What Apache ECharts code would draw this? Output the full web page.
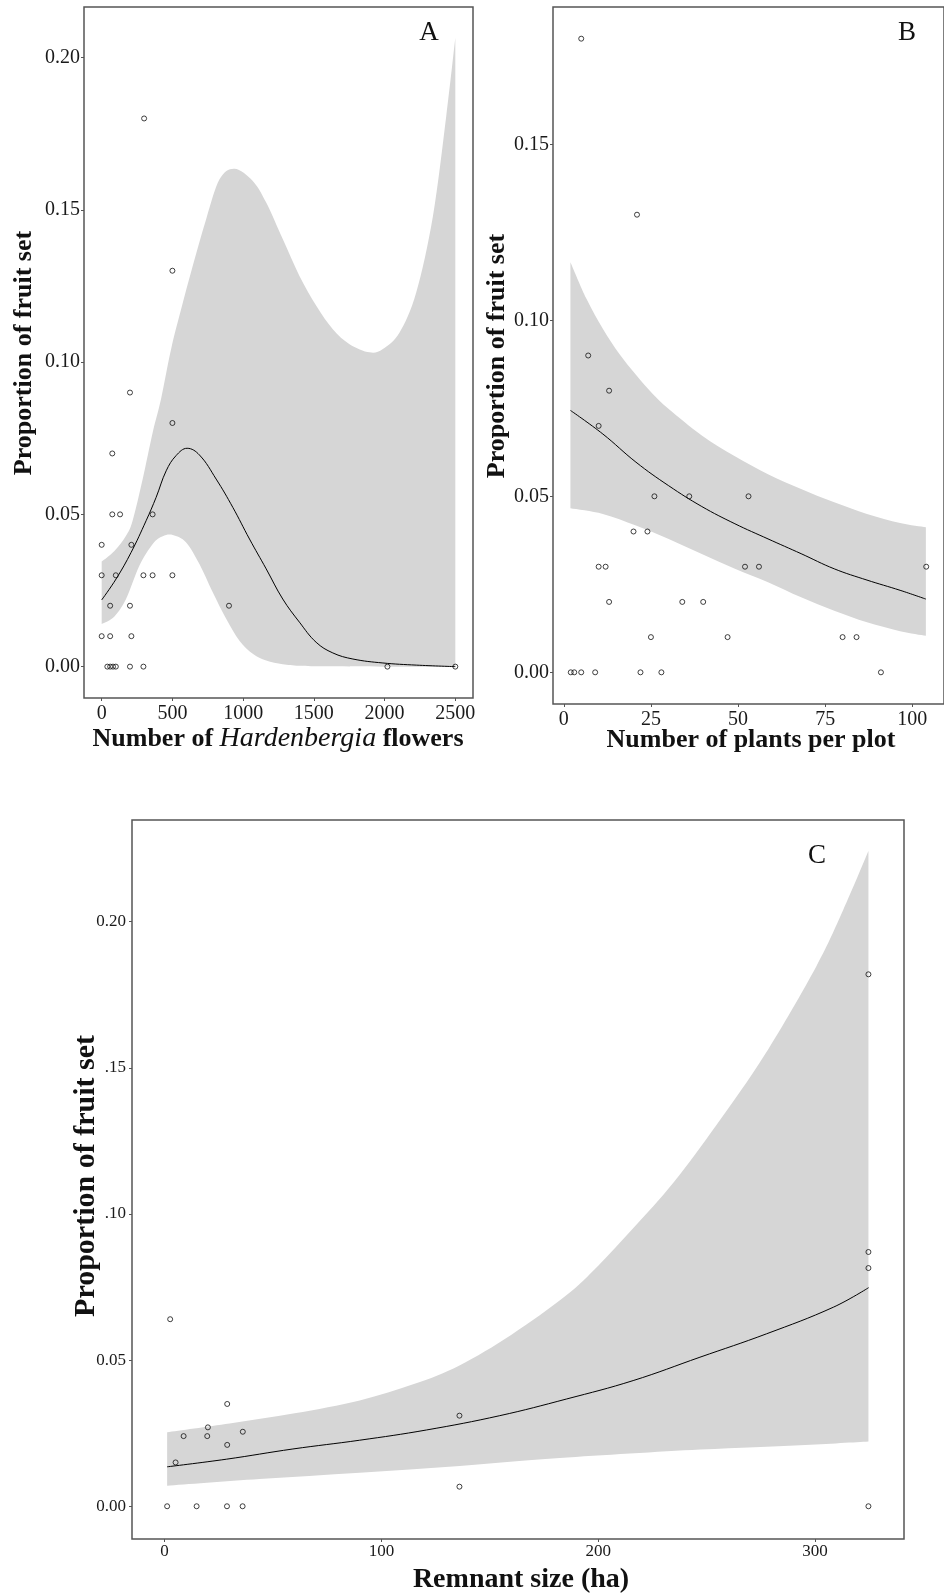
<!DOCTYPE html>
<html>
<head>
<meta charset="utf-8">
<title>Proportion of fruit set</title>
<script src="https://cdn.jsdelivr.net/npm/echarts@6/dist/echarts.min.js"></script>
<style>
  html, body { margin: 0; padding: 0; background: #ffffff; }
  #chart { width: 944px; height: 1596px; }
</style>
</head>
<body>
<div id="chart"></div>
<script>
// ---------- Panel A: number of Hardenbergia flowers ----------
const flowersPoints = [
  [300, 0.18], [500, 0.13], [200, 0.09], [500, 0.08], [75, 0.07],
  [75, 0.05], [130, 0.05], [360, 0.05], [0, 0.04], [210, 0.04],
  [0, 0.03], [100, 0.03], [295, 0.03], [360, 0.03], [500, 0.03],
  [60, 0.02], [200, 0.02], [900, 0.02], [0, 0.01], [60, 0.01], [210, 0.01],
  [40, 0], [60, 0], [80, 0], [100, 0], [200, 0], [295, 0], [2020, 0], [2500, 0]
];
const flowersFit = [
  [0, 0.0219], [102, 0.0288], [208, 0.0375], [314, 0.0479], [385, 0.0556],
  [456, 0.0643], [526, 0.0693], [604, 0.0717], [691, 0.0695], [809, 0.0616],
  [927, 0.0523], [1045, 0.0419], [1163, 0.0321], [1280, 0.0222], [1398, 0.0146],
  [1516, 0.0080], [1634, 0.0045], [1776, 0.0025], [1988, 0.0012], [2224, 0.0005], [2500, 0]
];
const flowersUpper = [
  [0, 0.0345], [90, 0.038], [172, 0.043], [219, 0.048], [290, 0.0616], [361, 0.077],
  [420, 0.088], [491, 0.1043], [562, 0.1174], [644, 0.1316], [739, 0.147], [833, 0.160],
  [939, 0.1635], [1068, 0.1595], [1163, 0.1524], [1280, 0.1404], [1398, 0.1283],
  [1517, 0.1185], [1634, 0.1108], [1752, 0.1059], [1894, 0.1032], [1988, 0.1043],
  [2106, 0.1097], [2224, 0.1229], [2342, 0.148], [2436, 0.1808], [2500, 0.2065]
];
const flowersLower = [
  [0, 0.014], [90, 0.0165], [172, 0.0222], [267, 0.0332], [361, 0.0403], [432, 0.0428],
  [503, 0.0432], [597, 0.0408], [691, 0.0337], [785, 0.0244], [880, 0.0157],
  [974, 0.0085], [1068, 0.0042], [1163, 0.002], [1280, 0.0008], [1398, 0.0003],
  [1600, 0.0001], [2000, 0], [2500, 0]
];
const flowersXTicks = [0, 500, 1000, 1500, 2000, 2500];
const flowersXLabels = ['0', '500', '1000', '1500', '2000', '2500'];
const flowersYTicks = [0, 0.05, 0.10, 0.15, 0.20];
const flowersYLabels = ['0.00', '0.05', '0.10', '0.15', '0.20'];

// ---------- Panel B: number of plants per plot ----------
const plantsPoints = [
  [5, 0.18], [21, 0.13], [7, 0.09], [13, 0.08], [10, 0.07],
  [26, 0.05], [36, 0.05], [53, 0.05], [20, 0.04], [24, 0.04],
  [10, 0.03], [12, 0.03], [52, 0.03], [56, 0.03], [104, 0.03],
  [13, 0.02], [34, 0.02], [40, 0.02], [25, 0.01], [47, 0.01], [80, 0.01], [84, 0.01],
  [2, 0], [3, 0], [5, 0], [9, 0], [22, 0], [28, 0], [91, 0]
];
const plantsFit = [
  [1.9, 0.0744], [11.2, 0.0677], [20.7, 0.0597], [30.1, 0.053], [39.6, 0.0471],
  [49.1, 0.0422], [58.6, 0.0379], [68.1, 0.0337], [77.6, 0.0294], [87, 0.0262],
  [96.5, 0.0233], [103.9, 0.0208]
];
const plantsUpper = [
  [1.9, 0.1165], [6.5, 0.1061], [11.2, 0.0976], [15.9, 0.0905], [20.7, 0.0845],
  [25.4, 0.0792], [30.1, 0.0748], [39.6, 0.0673], [49.1, 0.0614], [58.6, 0.0563],
  [68.1, 0.0521], [77.6, 0.0483], [87, 0.045], [96.5, 0.0424], [103.9, 0.0412]
];
const plantsLower = [
  [1.9, 0.0466], [11.2, 0.045], [20.7, 0.0417], [30.1, 0.0379], [39.6, 0.0336],
  [49.1, 0.0294], [58.6, 0.0256], [68.1, 0.0213], [77.6, 0.0175], [87, 0.0142],
  [96.5, 0.0117], [103.9, 0.0104]
];
const plantsXTicks = [0, 25, 50, 75, 100];
const plantsXLabels = ['0', '25', '50', '75', '100'];
const plantsYTicks = [0, 0.05, 0.10, 0.15];
const plantsYLabels = ['0.00', '0.05', '0.10', '0.15'];

// ---------- Panel C: remnant size ----------
const remnantPoints = [
  [1.2, 0], [2.6, 0.064], [5.1, 0.015], [8.8, 0.024], [14.8, 0], [19.7, 0.024],
  [20, 0.027], [28.8, 0], [28.9, 0.021], [28.9, 0.035], [36, 0], [36.1, 0.0255],
  [136, 0.031], [136, 0.0067], [324.6, 0.182], [324.6, 0.087], [324.6, 0.0815], [324.6, 0]
];
const remnantFit = [
  [1.2, 0.0135], [28.5, 0.0161], [59.2, 0.0196], [90, 0.0226], [120.8, 0.0261],
  [154.6, 0.031], [185.4, 0.0367], [216.1, 0.043], [246.9, 0.051], [277.6, 0.059],
  [308.4, 0.0681], [324.7, 0.0748]
];
const remnantUpper = [
  [1.2, 0.0253], [30, 0.0283], [60, 0.0318], [90, 0.0362], [115, 0.0418],
  [136, 0.0482], [160, 0.0587], [185, 0.072], [200, 0.0823], [216, 0.095],
  [235, 0.111], [254.6, 0.1305], [277, 0.1547], [300.6, 0.1848], [312.9, 0.2039],
  [324.6, 0.2242]
];
const remnantLower = [
  [1.2, 0.007], [43.8, 0.0093], [90, 0.0115], [136.1, 0.0138], [182.3, 0.0165],
  [246.9, 0.0194], [293, 0.0209], [324.6, 0.0222]
];
const remnantXTicks = [0, 100, 200, 300];
const remnantXLabels = ['0', '100', '200', '300'];
const remnantYTicks = [0, 0.05, 0.10, 0.15, 0.20];
const remnantYLabels = ['0.00', '0.05', '.10', '.15', '0.20'];

// ---------- helpers ----------
const SERIF = '"Liberation Serif", "Times New Roman", serif';
const FRAME = '#555555';
const BAND = '#d6d6d6';

function labelFor(v, ticks, labels) {
  for (let i = 0; i < ticks.length; i++) {
    if (Math.abs(ticks[i] - v) < 1e-9) return labels[i];
  }
  return '';
}

function valueAxis(gridIndex, min, max, ticks, labels, fontSize, margin) {
  return {
    type: 'value',
    gridIndex: gridIndex,
    min: min,
    max: max,
    axisLine: { show: false, onZero: false },
    splitLine: { show: false },
    axisTick: {
      show: true, inside: false, length: 3, customValues: ticks,
      lineStyle: { color: FRAME, width: 1 }
    },
    axisLabel: {
      customValues: ticks,
      margin: margin,
      fontFamily: SERIF,
      fontSize: fontSize,
      color: '#1a1a1a',
      formatter: function (v) { return labelFor(v, ticks, labels); }
    }
  };
}

// Catmull-Rom through pixel points, written as cubic Bezier path commands
function curvePath(pts, start) {
  let d = start + pts[0][0] + ' ' + pts[0][1];
  for (let i = 0; i < pts.length - 1; i++) {
    const p0 = pts[i - 1] || pts[i], p1 = pts[i], p2 = pts[i + 1], p3 = pts[i + 2] || pts[i + 1];
    const c1x = p1[0] + (p2[0] - p0[0]) / 6, c1y = p1[1] + (p2[1] - p0[1]) / 6;
    const c2x = p2[0] - (p3[0] - p1[0]) / 6, c2y = p2[1] - (p3[1] - p1[1]) / 6;
    d += ' C' + c1x + ' ' + c1y + ' ' + c2x + ' ' + c2y + ' ' + p2[0] + ' ' + p2[1];
  }
  return d;
}

function bandSeries(idx, upper, lower) {
  return {
    type: 'custom',
    xAxisIndex: idx,
    yAxisIndex: idx,
    silent: true,
    z: 1,
    data: [upper[0]],
    renderItem: function (params, api) {
      const up = upper.map(function (p) { return api.coord(p); });
      const lo = lower.slice().reverse().map(function (p) { return api.coord(p); });
      const d = curvePath(up, 'M') + ' ' + curvePath(lo, 'L') + ' Z';
      return { type: 'path', shape: { pathData: d }, style: { fill: BAND, stroke: null } };
    }
  };
}

function fitSeries(idx, pts) {
  return {
    type: 'line', xAxisIndex: idx, yAxisIndex: idx, data: pts,
    smooth: 0.4, symbol: 'none', showSymbol: false, silent: true, z: 2,
    lineStyle: { color: '#000000', width: 1 }
  };
}

function pointSeries(idx, pts) {
  return {
    type: 'scatter', xAxisIndex: idx, yAxisIndex: idx, data: pts,
    symbol: 'circle', symbolSize: 5, silent: true, z: 3,
    itemStyle: { color: 'rgba(0,0,0,0)', borderColor: '#111111', borderWidth: 1 }
  };
}

function frame(left, top, width, height) {
  return {
    left: left, top: top, width: width, height: height,
    show: true, borderColor: FRAME, borderWidth: 1.5, backgroundColor: 'transparent'
  };
}

function titleText(x, y, text, size, rotate) {
  return {
    type: 'text', x: x, y: y, rotation: rotate ? Math.PI / 2 : 0, silent: true,
    style: {
      text: text, fill: '#111111',
      font: 'bold ' + size + 'px ' + SERIF,
      align: 'center', verticalAlign: 'middle',
      textAlign: 'center', textVerticalAlign: 'middle'
    }
  };
}

function panelLetter(x, y, text) {
  return {
    type: 'text', x: x, y: y, silent: true,
    style: {
      text: text, fill: '#111111', font: '27px ' + SERIF,
      align: 'center', verticalAlign: 'middle',
      textAlign: 'center', textVerticalAlign: 'middle'
    }
  };
}

const chart = echarts.init(document.getElementById('chart'), null, { renderer: 'canvas' });

chart.setOption({
  animation: false,
  backgroundColor: '#ffffff',
  grid: [
    frame(84, 7, 389, 691),
    frame(553, 7, 395, 697),
    frame(132, 820, 772, 719)
  ],
  xAxis: [
    valueAxis(0, -125, 2625, flowersXTicks, flowersXLabels, 20, 6),
    valueAxis(1, -3.1, 109.1, plantsXTicks, plantsXLabels, 20, 6),
    valueAxis(2, -15, 341, remnantXTicks, remnantXLabels, 17, 4)
  ],
  yAxis: [
    valueAxis(0, -0.0103, 0.2166, flowersYTicks, flowersYLabels, 20, 4),
    valueAxis(1, -0.009, 0.189, plantsYTicks, plantsYLabels, 20, 4),
    valueAxis(2, -0.0112, 0.2348, remnantYTicks, remnantYLabels, 17, 6)
  ],
  series: [
    bandSeries(0, flowersUpper, flowersLower),
    fitSeries(0, flowersFit),
    pointSeries(0, flowersPoints),
    bandSeries(1, plantsUpper, plantsLower),
    fitSeries(1, plantsFit),
    pointSeries(1, plantsPoints),
    bandSeries(2, remnantUpper, remnantLower),
    fitSeries(2, remnantFit),
    pointSeries(2, remnantPoints)
  ],
  graphic: [
    panelLetter(429, 33, 'A'),
    panelLetter(907, 33, 'B'),
    panelLetter(817, 856, 'C'),
    titleText(24, 353, 'Proportion of fruit set', 26, true),
    titleText(497, 356, 'Proportion of fruit set', 26, true),
    titleText(86, 1176, 'Proportion of fruit set', 30, true),
    {
      type: 'text', x: 278, y: 739, silent: true,
      style: {
        text: '{b|Number of }{i|Hardenbergia}{b| flowers}',
        fill: '#111111',
        align: 'center', verticalAlign: 'middle',
        textAlign: 'center', textVerticalAlign: 'middle',
        rich: {
          b: { fontFamily: SERIF, fontSize: 26, fontWeight: 'bold', fill: '#111111' },
          i: { fontFamily: SERIF, fontSize: 28, fontStyle: 'italic', fontWeight: 'normal', fill: '#111111' }
        }
      }
    },
    titleText(751, 740, 'Number of plants per plot', 26, false),
    titleText(521, 1580, 'Remnant size (ha)', 28, false)
  ]
});
</script>
</body>
</html>
